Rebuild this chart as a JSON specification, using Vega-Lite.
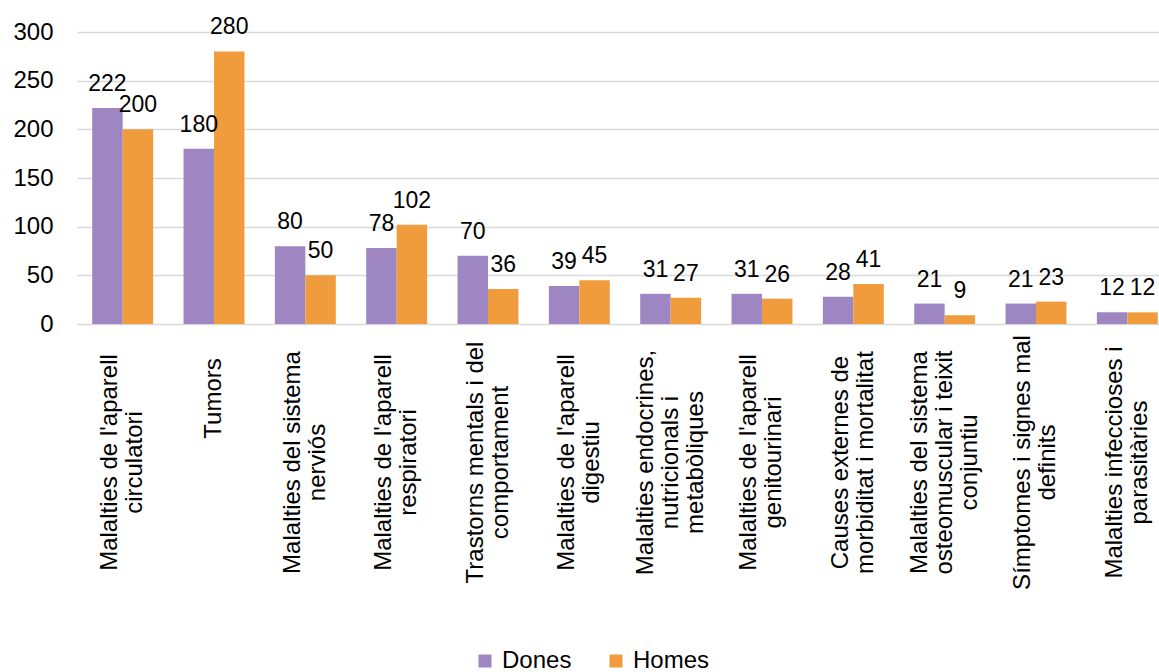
{
  "$schema": "https://vega.github.io/schema/vega-lite/v6.json",
  "autosize": {"type": "none"},
  "padding": {"left": 77, "top": 32, "right": 0, "bottom": 348},
  "width": 1096,
  "height": 292,
  "config": {
    "view": {"stroke": null},
    "font": "Liberation Sans",
    "axis": {"labelColor": "#000000", "labelFont": "Liberation Sans"},
    "legend": {"labelFont": "Liberation Sans"}
  },
  "data": {
    "values": [
      {"cat": "Malalties de l'aparell|circulatori", "sex": "Dones", "value": 222},
      {"cat": "Malalties de l'aparell|circulatori", "sex": "Homes", "value": 200},
      {"cat": "Tumors", "sex": "Dones", "value": 180},
      {"cat": "Tumors", "sex": "Homes", "value": 280},
      {"cat": "Malalties del sistema|nerviós", "sex": "Dones", "value": 80},
      {"cat": "Malalties del sistema|nerviós", "sex": "Homes", "value": 50},
      {"cat": "Malalties de l'aparell|respiratori", "sex": "Dones", "value": 78},
      {"cat": "Malalties de l'aparell|respiratori", "sex": "Homes", "value": 102},
      {"cat": "Trastorns mentals i del|comportament", "sex": "Dones", "value": 70},
      {"cat": "Trastorns mentals i del|comportament", "sex": "Homes", "value": 36},
      {"cat": "Malalties de l'aparell|digestiu", "sex": "Dones", "value": 39},
      {"cat": "Malalties de l'aparell|digestiu", "sex": "Homes", "value": 45},
      {"cat": "Malalties endocrines,|nutricionals i|metabòliques", "sex": "Dones", "value": 31},
      {"cat": "Malalties endocrines,|nutricionals i|metabòliques", "sex": "Homes", "value": 27},
      {"cat": "Malalties de l'aparell|genitourinari", "sex": "Dones", "value": 31},
      {"cat": "Malalties de l'aparell|genitourinari", "sex": "Homes", "value": 26},
      {"cat": "Causes externes de|morbiditat i mortalitat", "sex": "Dones", "value": 28},
      {"cat": "Causes externes de|morbiditat i mortalitat", "sex": "Homes", "value": 41},
      {"cat": "Malalties del sistema|osteomuscular i teixit|conjuntiu", "sex": "Dones", "value": 21},
      {"cat": "Malalties del sistema|osteomuscular i teixit|conjuntiu", "sex": "Homes", "value": 9},
      {"cat": "Símptomes i signes mal|definits", "sex": "Dones", "value": 21},
      {"cat": "Símptomes i signes mal|definits", "sex": "Homes", "value": 23},
      {"cat": "Malalties infeccioses i|parasitàries", "sex": "Dones", "value": 12},
      {"cat": "Malalties infeccioses i|parasitàries", "sex": "Homes", "value": 12}
    ]
  },
  "encoding": {
    "x": {
      "field": "cat",
      "type": "nominal",
      "sort": null,
      "title": null,
      "scale": {"paddingInner": 0.333, "paddingOuter": 0.1667},
      "axis": {
        "labelExpr": "split(datum.label, '|')",
        "labelAngle": -90,
        "labelAlign": "center",
        "labelBaseline": "middle",
        "labelFontSize": 24,
        "labelLineHeight": 25,
        "labelPadding": {
          "condition": {"test": "datum.value == 'Tumors'", "value": 74},
          "value": 138
        },
        "labelLimit": 600,
        "labelOffset": {
          "condition": [
            {"test": "length(split(datum.value, '|')) == 3", "value": -25},
            {"test": "length(split(datum.value, '|')) == 2", "value": -12.5}
          ],
          "value": 0
        },
        "domain": false,
        "ticks": false,
        "grid": false
      }
    },
    "xOffset": {"field": "sex", "type": "nominal", "sort": ["Dones", "Homes"], "scale": {"paddingInner": 0, "paddingOuter": 0}},
    "y": {
      "field": "value",
      "type": "quantitative",
      "title": null,
      "scale": {"domain": [0, 300], "nice": false},
      "axis": {
        "values": [0, 50, 100, 150, 200, 250, 300],
        "labelFontSize": 24,
        "labelPadding": 24,
        "domain": false,
        "ticks": false,
        "grid": true,
        "gridColor": "#d9d9d9",
        "gridWidth": 1.5
      }
    }
  },
  "layer": [
    {
      "mark": {"type": "bar"},
      "encoding": {
        "color": {
          "field": "sex",
          "type": "nominal",
          "scale": {"domain": ["Dones", "Homes"], "range": ["#9e86c2", "#f19c3c"]},
          "legend": {
            "title": null,
            "orient": "none",
            "direction": "horizontal",
            "legendX": 396,
            "legendY": 617,
            "labelFontSize": 24,
            "labelColor": "#000000",
            "symbolType": "square",
            "symbolSize": 169,
            "symbolStrokeWidth": 0,
            "labelOffset": 5,
            "columnPadding": 32
          }
        }
      }
    },
    {
      "mark": {"type": "text", "fontSize": 23, "color": "#000000", "baseline": "alphabetic", "dy": -17},
      "encoding": {
        "text": {"field": "value", "type": "quantitative"}
      }
    }
  ]
}
